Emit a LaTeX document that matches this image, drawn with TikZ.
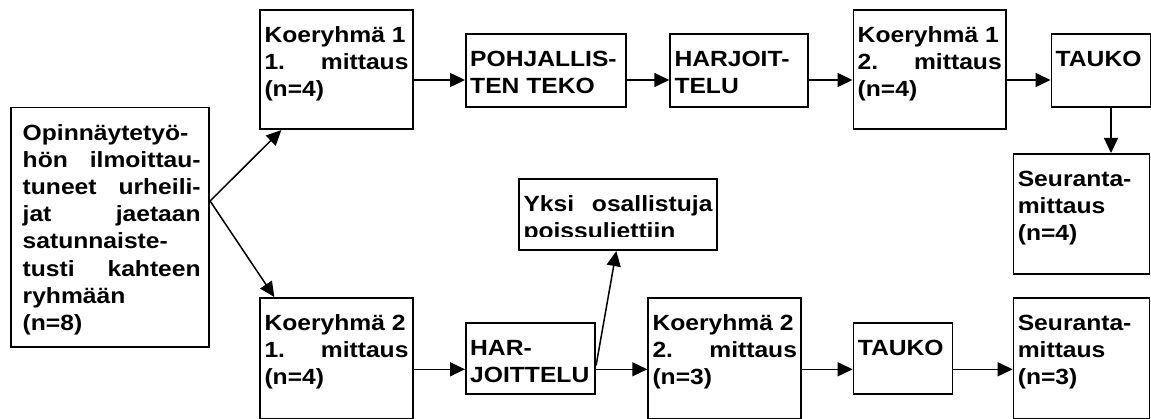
\documentclass[tikz,border=0pt]{standalone}
\usepackage{fontspec}
\usepackage{graphicx}
\setmainfont{Liberation Sans}
\usetikzlibrary{arrows.meta,calc}
\newcommand{\stretchbox}[2]{\scalebox{1.12}[1]{\parbox[t]{\dimexpr #1*100/112\relax}{#2}}}
\begin{document}
\begin{tikzpicture}[x=1pt,y=-1pt,
  box/.style={draw, line width=1.8pt, inner sep=0pt, anchor=north west},
  txt/.style={inner sep=0pt, anchor=base west, font=\bfseries\fontsize{22pt}{27.2pt}\selectfont},
  arr/.style={line width=1.5pt, -{Triangle[length=15pt,width=14pt]}}]
\useasboundingbox (0,0) rectangle (1151,419);
% boxes
\node[box, minimum width=198.3pt, minimum height=239.6pt] (left) at (10,106.7) {};
\node[box, minimum width=152.7pt, minimum height=119.3pt] (k1a) at (259.3,9) {};
\node[box, minimum width=160pt, minimum height=72.7pt] (pohj) at (465,33.3) {};
\node[box, minimum width=138pt, minimum height=72.7pt] (harj) at (669.3,33.3) {};
\node[box, minimum width=152.5pt, minimum height=119.3pt] (k1b) at (852.5,9) {};
\node[box, minimum width=99pt, minimum height=72.7pt] (taukoa) at (1050.5,33.3) {};
\node[box, minimum width=136pt, minimum height=120.3pt] (seura) at (1012.6,153) {};
\node[box, minimum width=197.7pt, minimum height=71pt] (yksi) at (518.3,178.3) {};
\node[box, minimum width=153pt, minimum height=121.3pt] (k2a) at (259.3,297) {};
\node[box, minimum width=129.3pt, minimum height=71pt] (har) at (465,322) {};
\node[box, minimum width=153pt, minimum height=121.3pt] (k2b) at (647.3,297) {};
\node[box, minimum width=99pt, minimum height=71pt] (taukob) at (852.6,322) {};
\node[box, minimum width=136pt, minimum height=121.3pt] (seurb) at (1012.6,297) {};
% texts
\node[txt] (leftt) at ($(left.north west)+(12.5,33.5)$) {\stretchbox{178pt}{Opinnäytetyö-\\hön\hfill ilmoittau-\\tuneet\hfill urheili-\\jat\hfill jaetaan\\satunnaiste-\\tusti\hfill kahteen\\ryhmään\\(n=8)}};
\node[txt] (k1at) at ($(k1a.north west)+(5,33.5)$) {\stretchbox{144pt}{Koeryhmä~1\\1.\hfill mittaus\\(n=4)}};
\node[txt] (pohjt) at ($(pohj.north west)+(5,33.5)$) {\stretchbox{151pt}{POHJALLIS-\\TEN~TEKO}};
\node[txt] (harjt) at ($(harj.north west)+(5,33.5)$) {\stretchbox{129pt}{HARJOIT-\\TELU}};
\node[txt] (k1bt) at ($(k1b.north west)+(5,33.5)$) {\stretchbox{144pt}{Koeryhmä~1\\2.\hfill mittaus\\(n=4)}};
\node[txt] (taukoat) at ($(taukoa.north west)+(5,33.5)$) {\stretchbox{90pt}{TAUKO}};
\node[txt] (seurat) at ($(seura.north west)+(5,33.5)$) {\stretchbox{127pt}{Seuranta-\\mittaus\\(n=4)}};
\begin{scope}
\clip (518.3,178.3) rectangle (716,237);
\node[txt] (yksit) at ($(yksi.north west)+(5,33.5)$) {\stretchbox{189pt}{Yksi\hfill osallistuja\\poissuljettiin}};
\end{scope}
\node[txt] (k2at) at ($(k2a.north west)+(5,33.5)$) {\stretchbox{144pt}{Koeryhmä~2\\1.\hfill mittaus\\(n=4)}};
\node[txt] (hart) at ($(har.north west)+(5,33.5)$) {\stretchbox{121pt}{HAR-\\JOITTELU}};
\node[txt] (k2bt) at ($(k2b.north west)+(5,33.5)$) {\stretchbox{144.5pt}{Koeryhmä~2\\2.\hfill mittaus\\(n=3)}};
\node[txt] (taukobt) at ($(taukob.north west)+(5,33.5)$) {\stretchbox{90pt}{TAUKO}};
\node[txt] (seurbt) at ($(seurb.north west)+(5,33.5)$) {\stretchbox{127pt}{Seuranta-\\mittaus\\(n=3)}};
% helper coordinates
\coordinate (rowA) at (0,80);
\coordinate (rowB) at (0,369.3);
\coordinate (colT) at (1111,0);
\coordinate (split) at (0,201);
% connectors
\draw[arr] (k1a.east |- rowA) -- (pohj.west |- rowA);
\draw[arr] (pohj.east |- rowA) -- (harj.west |- rowA);
\draw[arr] (harj.east |- rowA) -- (k1b.west |- rowA);
\draw[arr] (k1b.east |- rowA) -- (taukoa.west |- rowA);
\draw[arr] (taukoa.south -| colT) -- (seura.north -| colT);
\draw[arr] (left.east |- split) -- ([xshift=22pt]k1a.south west);
\draw[arr] (left.east |- split) -- ([xshift=15pt]k2a.north west);
\draw[arr] (k2a.east |- rowB) -- (har.west |- rowB);
\draw[arr] (har.east |- rowB) -- (k2b.west |- rowB);
\draw[arr] (k2b.east |- rowB) -- (taukob.west |- rowB);
\draw[arr] (taukob.east |- rowB) -- (seurb.west |- rowB);
\draw[arr] ([yshift=-7pt]har.east) -- ([xshift=98pt]yksi.south west);
\end{tikzpicture}
\end{document}
